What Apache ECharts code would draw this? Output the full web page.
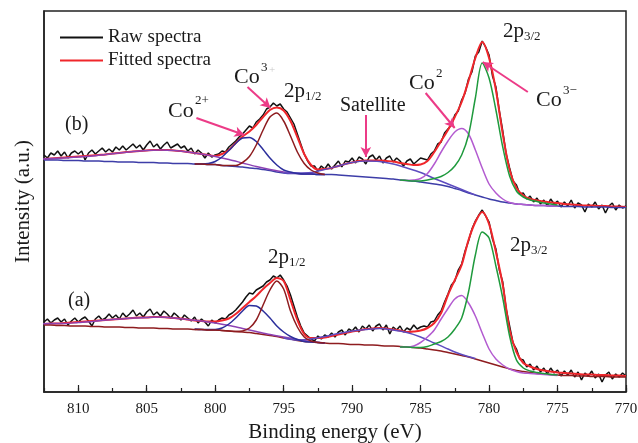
<!DOCTYPE html>
<html>
<head>
<meta charset="utf-8">
<script src="https://cdn.jsdelivr.net/npm/echarts@6/dist/echarts.min.js"></script>
<style>
  html, body { margin: 0; padding: 0; background: #fff; }
  #chart { width: 638px; height: 443px; }
</style>
</head>
<body>
<div id="chart"></div>
<script>
// Binding energies (eV)
const energyRaw = [
  812.5, 812.25,
  812, 811.75, 811.5, 811.25, 811, 810.75, 810.5, 810.25,
  810, 809.75, 809.5, 809.25, 809, 808.75, 808.5, 808.25,
  808, 807.75, 807.5, 807.25, 807, 806.75, 806.5, 806.25,
  806, 805.75, 805.5, 805.25, 805, 804.75, 804.5, 804.25,
  804, 803.75, 803.5, 803.25, 803, 802.75, 802.5, 802.25,
  802, 801.75, 801.5, 801.25, 801, 800.75, 800.5, 800.25,
  800, 799.75, 799.5, 799.25, 799, 798.75, 798.5, 798.25,
  798, 797.75, 797.5, 797.25, 797, 796.75, 796.5, 796.25,
  796, 795.75, 795.5, 795.25, 795, 794.75, 794.5, 794.25,
  794, 793.75, 793.5, 793.25, 793, 792.75, 792.5, 792.25,
  792, 791.75, 791.5, 791.25, 791, 790.75, 790.5, 790.25,
  790, 789.75, 789.5, 789.25, 789, 788.75, 788.5, 788.25,
  788, 787.75, 787.5, 787.25, 787, 786.75, 786.5, 786.25,
  786, 785.75, 785.5, 785.25, 785, 784.75, 784.5, 784.25,
  784, 783.75, 783.5, 783.25, 783, 782.75, 782.5, 782.25,
  782, 781.75, 781.5, 781.25, 781, 780.75, 780.5, 780.25,
  780, 779.75, 779.5, 779.25, 779, 778.75, 778.5, 778.25,
  778, 777.75, 777.5, 777.25, 777, 776.75, 776.5, 776.25,
  776, 775.75, 775.5, 775.25, 775, 774.75, 774.5, 774.25,
  774, 773.75, 773.5, 773.25, 773, 772.75, 772.5, 772.25,
  772, 771.75, 771.5, 771.25, 771, 770.75, 770.5, 770.25,
  770
]
const energyFit = [
  812.5, 812, 811.5, 811, 810.5, 810, 809.5, 809, 808.5, 808,
  807.5, 807, 806.5, 806, 805.5, 805, 804.5, 804, 803.5, 803,
  802.5, 802, 801.5, 801, 800.5, 800, 799.5, 799, 798.5, 798,
  797.5, 797, 796.5, 796, 795.5, 795, 794.5, 794, 793.5, 793,
  792.5, 792, 791.5, 791, 790.5, 790, 789.5, 789, 788.5, 788,
  787.5, 787, 786.5, 786, 785.5, 785, 784.5, 784, 783.5, 783,
  782.5, 782, 781.5, 781, 780.5, 780, 779.5, 779, 778.5, 778,
  777.5, 777, 776.5, 776, 775.5, 775, 774.5, 774, 773.5, 773,
  772.5, 772, 771.5, 771, 770.5, 770
]
const energySat1 = [813, 812, 811, 810, 809, 808, 807, 806, 805, 804, 803, 802, 801, 800, 799, 798, 797, 796, 795, 794, 793, 792]
const energySat2 = [795, 794, 793, 792, 791, 790, 789, 788, 787, 786, 785, 784, 783, 782, 781]
const energyP12 = [801.5, 801, 800.5, 800, 799.5, 799, 798.5, 798, 797.5, 797, 796.5, 796, 795.5, 795, 794.5, 794, 793.5, 793, 792.5, 792]
const energyP32 = [786.5, 786, 785.5, 785, 784.5, 784, 783.5, 783, 782.5, 782, 781.5, 781, 780.5, 780, 779.5, 779, 778.5, 778, 777.5, 777, 776.5, 776, 775.5, 775]

// (b) upper spectrum, intensity (a.u.)
const rawB = [
  237, 234, 239, 237, 241, 236, 240, 234, 239, 241, 238, 241, 232, 239, 242, 238, 241, 244, 240, 243,
  240, 245, 242, 246, 242, 245, 248, 244, 247, 242, 247, 251, 245, 248, 243, 247, 250, 244, 246, 248,
  244, 246, 241, 244, 238, 242, 239, 234, 239, 235, 237,
  238, 241, 240, 245, 248, 251, 255, 258, 262, 266, 264, 270, 273, 277, 283, 285, 289, 286, 288, 283,
  280, 274, 268, 258, 248, 238, 231, 226,
  226, 221, 226, 223, 228, 223, 227, 231, 225, 231, 230, 234, 229, 235, 233, 228, 235, 237, 232, 236,
  229, 234, 236, 230, 234, 231, 226, 231, 233, 228, 231, 234,
  233, 232, 238, 241, 248, 250, 259, 263, 267, 277, 281, 292, 299, 313, 320, 336, 340, 351, 345, 337,
  316, 305, 281, 261, 238, 224, 211, 207, 198, 199, 193, 196, 190, 194, 188, 192,
  186, 193, 188, 191, 185, 190, 186, 192, 184, 189, 187, 180, 188, 185, 190, 183, 187, 179, 186, 189,
  182, 187, 184, 186
]
const fitB = [
  233, 233.5, 234, 234.5, 235, 235.5, 236, 236.5, 237, 237.5,
  238.5, 239, 240, 240.5, 241, 241.5, 242, 242, 242, 241.5,
  241, 240, 239, 238, 237, 236, 238, 242, 249, 255.5,
  260.5, 267, 275, 282, 284.5, 281.5, 271, 255, 238, 227,
  222.5, 223, 224, 226, 228, 229.5, 231, 231.5, 231.5, 231.5,
  231, 230.5, 229, 228, 227, 227.5, 231, 240, 251, 262,
  275, 290, 311, 334, 350, 334, 302, 258, 222, 204,
  196.5, 193, 191.5, 190.5, 189.5, 189, 188, 187.5, 187, 186.5,
  186.5, 186, 186, 185.5, 185.5, 185
]
const backgroundB = [
  232, 232, 232, 231.5, 231.5, 231.5, 231, 231, 231, 230.5,
  230.5, 230, 230, 230, 229.5, 229.5, 229.5, 229, 229, 228.5,
  228.5, 228.5, 228, 228, 227.5, 227.5, 226.5, 226, 225.5, 225,
  224, 223.5, 222.5, 221.5, 220, 219, 218.5, 218.5, 218, 218,
  217.5, 217.5, 217.5, 217, 216.5, 216, 215.5, 215, 214.5, 214,
  213.5, 213, 212, 211.5, 211, 210, 209, 208, 207, 205.5,
  203.5, 201.5, 199, 197, 195, 193, 191.5, 190, 189, 188,
  187.5, 187, 186.5, 186.5, 186, 186, 185.5, 185.5, 185.5, 185,
  185, 185, 185, 184.5, 184.5, 184.5
]
const sat1B = [232.5, 233.5, 234, 235, 236, 237.5, 239, 240.5, 241.5, 242, 241.5, 240, 238, 235.5, 232.5, 229, 225.5, 222.5, 220, 218.5, 218, 217.5]
const sat2B = [219, 219, 219.5, 222.5, 226, 229.5, 231, 230.5, 228, 224, 219.5, 213.5, 208, 202.5, 197]
const co2HalfB = [228, 228, 228.5, 230.5, 235, 241.5, 248.5, 254, 254.5, 250.5, 242.5, 234, 227, 222, 220, 218.5, 218, 218, 217.5, 217.5]
const co3HalfB = [228, 228, 227.5, 227.5, 226.5, 226.5, 226.5, 229.5, 235.5, 247, 262, 275, 279, 271, 256, 240, 228.5, 222, 219, 217.5]
const co2ThreeB = [212, 211.5, 212, 213.5, 218.5, 228, 240, 251, 260, 263.5, 258, 242, 224, 208, 199, 193, 189.5, 188, 187.5, 187, 186.5, 186.5, 186, 186]
const co3ThreeB = [212, 211.5, 211, 211, 212, 213.5, 215.5, 219.5, 226, 237, 257, 294, 329, 314, 282, 245, 216, 201, 195, 192, 190.5, 189, 188, 187]

// (a) lower spectrum, intensity (a.u.)
const rawA = [
  70, 73, 69, 72, 74, 70, 73, 67, 71, 74, 70, 73, 75, 71, 66, 73, 76, 72, 74, 78,
  74, 77, 73, 79, 75, 78, 82, 76, 79, 75, 80, 83, 77, 80, 76, 81, 78, 74, 79, 76,
  72, 77, 74, 71, 75, 69, 73, 70, 66, 72, 69,
  72, 74, 73, 77, 79, 82, 86, 90, 95, 99, 98, 102, 104, 106, 110, 112, 116, 114, 117, 112,
  106, 97, 86, 75, 66, 59, 56, 53,
  51, 56, 53, 57, 55, 59, 55, 60, 62, 57, 63, 61, 65, 60, 66, 63, 67, 61, 66, 68,
  62, 67, 58, 65, 62, 66, 60, 64, 62, 67, 63, 65,
  66, 65, 70, 71, 77, 81, 90, 98, 107, 111, 122, 128, 141, 151, 163, 171, 177, 182, 176, 170,
  153, 143, 122, 110, 83, 66, 49, 43, 33, 32, 25, 28, 22, 26, 20, 24,
  18, 24, 19, 22, 16, 21, 17, 22, 15, 20, 12, 19, 16, 21, 14, 18, 10, 17, 20, 13,
  18, 15, 19, 16
]
const fitA = [
  68, 68.5, 68.5, 69, 69.5, 70, 70.5, 71, 71.5, 72,
  72.5, 73, 73.5, 74, 74.5, 74.5, 75, 75, 74.5, 74,
  73.5, 72.5, 71.5, 71, 70.5, 70.5, 71.5, 73.5, 78, 84,
  90, 96, 103, 109, 114, 111, 92, 72, 58, 54,
  54, 54.5, 56, 57.5, 59, 60.5, 61.5, 63, 63.5, 64,
  63.5, 62.5, 61.5, 60, 60.5, 61.5, 64, 69, 79, 97,
  112, 127, 152, 170, 180, 168, 140, 107, 62, 40,
  29, 25.5, 23, 21.5, 20.5, 19.5, 19, 18.5, 18, 17.5,
  17.5, 17, 17, 16.5, 16.5, 16
]
const backgroundA = [
  67, 67, 66.5, 66.5, 66, 66, 66, 65.5, 65.5, 65,
  65, 65, 64.5, 64.5, 64, 64, 64, 63.5, 63.5, 63,
  63, 63, 62.5, 62.5, 62, 62, 61.5, 61, 60.5, 60,
  59.5, 58.5, 57.5, 56.5, 55.5, 54, 53, 51.5, 50.5, 50,
  49.5, 49, 48.5, 48.5, 48, 47.5, 47.5, 47, 47, 46.5,
  46, 46, 45.5, 45, 44.5, 44, 43, 42, 41, 39.5,
  38, 36.5, 35, 33, 31, 29, 27, 25, 23, 21.5,
  20.5, 19.5, 18.5, 18, 17.5, 17, 16.5, 16.5, 16, 16,
  15.5, 15.5, 15.5, 15, 15, 15
]
const sat1A = [68, 68.5, 68.5, 69.5, 70.5, 72, 73, 74, 74.5, 75, 74, 72.5, 71, 69, 66.5, 63.5, 60.5, 57.5, 55, 52.5, 50.5, 49]
const sat2A = [54, 52, 53, 55.5, 58.5, 61, 62.5, 63.5, 62, 59.5, 55, 49, 43, 37.5, 33.5]
const co2HalfA = [63, 62.5, 62.5, 62.5, 64, 68, 74, 81, 86.5, 86, 81, 74, 66, 60, 55.5, 52.5, 50.5, 50, 49.5, 49]
const co3HalfA = [62.5, 62.5, 62, 62, 61.5, 61, 60.5, 61, 64, 72, 87, 102, 111, 103, 81, 65, 55, 51, 49.5, 49]
const co2ThreeA = [45, 45, 46, 49.5, 55, 62, 73, 83.5, 93, 96.5, 89, 76, 59, 43, 33, 27, 23, 20.5, 19, 18.5, 18, 17.5, 17, 16.5]
const co3ThreeA = [45, 45, 44.5, 44.5, 45.5, 48, 50.5, 55, 63, 74, 100, 137, 160, 154, 126, 94, 56, 32, 24, 21, 19.5, 18.5, 17.5, 17]

// Pink annotation arrows: [fromEnergy, fromIntensity, toEnergy, toIntensity]
const arrowLines = [
  [801.37, 274, 797.86, 257],
  [797.64, 305, 795.96, 284],
  [789.0, 277, 789.0, 235],
  [784.63, 299, 782.51, 264],
  [777.17, 300, 780.46, 330]
]

const FONT = "'Liberation Serif', 'Times New Roman', serif"
const INK = '#1a1a1a'
const PINK = '#ec3b87'
const C_RAW = '#111111'
const C_FIT = '#f0262b'
const C_BLUE = '#2c2f9c'
const C_DARKRED = '#8e1c1f'
const C_SAT = '#8d42b4'
const C_SAT2 = '#5e4cc0'
const C_VIOLET = '#b35bd0'
const C_GREEN = '#1f9a3d'
const C_BG_B = '#3d3da8'

const chart = echarts.init(document.getElementById('chart'))

const line = (name, xs, ys, color, width, z, smooth) => ({
  name,
  type: 'line',
  data: ys.map((y, i) => [xs[i], y]),
  symbol: 'none',
  smooth: smooth === undefined ? 0.3 : smooth,
  color,
  lineStyle: { color, width },
  z,
  silent: true,
  animation: false,
})

const text = (str, x, y, size, fill) => ({
  type: 'text',
  x,
  y,
  z: 100,
  style: {
    text: str,
    fontFamily: FONT,
    fontSize: size,
    fill: fill || INK,
    align: 'left',
    verticalAlign: 'middle',
    textAlign: 'left',
    textVerticalAlign: 'middle',
  },
})

const fittedB = line('Fitted spectra', energyFit, fitB, C_FIT, 2, 3)
fittedB.markLine = {
  silent: true,
  animation: false,
  symbol: ['none', 'arrow'],
  symbolSize: [8, 10],
  label: { show: false },
  lineStyle: { color: PINK, width: 2, type: 'solid' },
  data: arrowLines.map((a) => [{ coord: [a[0], a[1]] }, { coord: [a[2], a[3]] }]),
}

chart.setOption({
  animation: false,
  grid: {
    left: 44, right: 12, top: 11, bottom: 51,
    outerBoundsMode: 'none',
    containLabel: false,
    show: true, borderColor: '#222', borderWidth: 1.5,
  },
  legend: {
    data: ['Raw spectra', 'Fitted spectra'],
    orient: 'vertical',
    left: 60,
    top: 28,
    padding: 0,
    icon: 'rect',
    itemWidth: 43,
    itemHeight: 2,
    itemGap: 4,
    selectedMode: false,
    textStyle: { fontFamily: FONT, fontSize: 19, color: INK },
  },
  xAxis: [
    {
      type: 'value',
      min: 770,
      max: 812.5,
      interval: 5,
      inverse: true,
      position: 'bottom',
      axisLine: { show: true, lineStyle: { color: '#222', width: 1.5 } },
      axisTick: { inside: true, length: 7, lineStyle: { color: '#222', width: 1.2 } },
      axisLabel: { fontFamily: FONT, fontSize: 15, color: INK, margin: 10, showMaxLabel: false },
      splitLine: { show: false },
      name: 'Binding energy (eV)',
      nameLocation: 'middle',
      nameGap: 30,
      nameTextStyle: { fontFamily: FONT, fontSize: 21, color: INK },
    },
    {
      type: 'value',
      min: 770,
      max: 812.5,
      interval: 2.5,
      inverse: true,
      position: 'bottom',
      axisLine: { show: false },
      axisTick: { inside: true, length: 4, lineStyle: { color: '#222', width: 1.2 } },
      axisLabel: { show: false },
      splitLine: { show: false },
    },
  ],
  yAxis: {
    type: 'value',
    min: 0,
    max: 381,
    axisLine: { show: true, lineStyle: { color: '#222', width: 1.5 } },
    axisTick: { show: false },
    axisLabel: { show: false },
    splitLine: { show: false },
    name: 'Intensity (a.u.)',
    nameLocation: 'middle',
    nameGap: 10,
    nameTextStyle: { fontFamily: FONT, fontSize: 21, color: INK },
  },
  series: [
    line('Raw spectra', energyRaw, rawB, C_RAW, 1.5, 2, false),
    line('Raw spectra', energyRaw, rawA, C_RAW, 1.5, 2, false),
    fittedB,
    line('Fitted spectra', energyFit, fitA, C_FIT, 2, 3),
    line('Background (b)', energyFit, backgroundB, C_BG_B, 1.5, 4),
    line('Background (a)', energyFit, backgroundA, C_DARKRED, 1.5, 4),
    line('Satellite 1 (b)', energySat1, sat1B, C_SAT, 1.5, 4),
    line('Satellite 1 (a)', energySat1, sat1A, C_SAT, 1.5, 4),
    line('Satellite 2 (b)', energySat2, sat2B, C_SAT2, 1.5, 4),
    line('Satellite 2 (a)', energySat2, sat2A, C_SAT2, 1.5, 4),
    line('Co2+ 2p1/2 (b)', energyP12, co2HalfB, C_BLUE, 1.5, 4),
    line('Co2+ 2p1/2 (a)', energyP12, co2HalfA, C_BLUE, 1.5, 4),
    line('Co3+ 2p1/2 (b)', energyP12, co3HalfB, C_DARKRED, 1.5, 4),
    line('Co3+ 2p1/2 (a)', energyP12, co3HalfA, C_DARKRED, 1.5, 4),
    line('Co2+ 2p3/2 (b)', energyP32, co2ThreeB, C_VIOLET, 1.5, 4),
    line('Co2+ 2p3/2 (a)', energyP32, co2ThreeA, C_VIOLET, 1.5, 4),
    line('Co3+ 2p3/2 (b)', energyP32, co3ThreeB, C_GREEN, 1.5, 4),
    line('Co3+ 2p3/2 (a)', energyP32, co3ThreeA, C_GREEN, 1.5, 4),
  ],
  graphic: [
    text('(b)', 65, 125, 20),
    text('(a)', 68, 301, 20),
    text('Co', 168, 111, 22),
    text('2+', 195, 101, 13),
    text('Co', 234, 77, 22),
    text('3', 261, 68, 13),
    text('+', 269, 70, 11, '#c8c8c8'),
    text('2p', 284, 91, 21),
    text('1/2', 305, 97, 13),
    text('Satellite', 340, 106, 20),
    text('Co', 409, 83, 22),
    text('2', 436, 74, 13),
    text('2p', 503, 31, 21),
    text('3/2', 524, 37, 13),
    text('Co', 536, 100, 22),
    text('3\u2212', 563, 91, 13),
    text('2p', 268, 257, 21),
    text('1/2', 289, 263, 13),
    text('2p', 510, 245, 21),
    text('3/2', 531, 251, 13),
  ],
})
</script>
</body>
</html>
